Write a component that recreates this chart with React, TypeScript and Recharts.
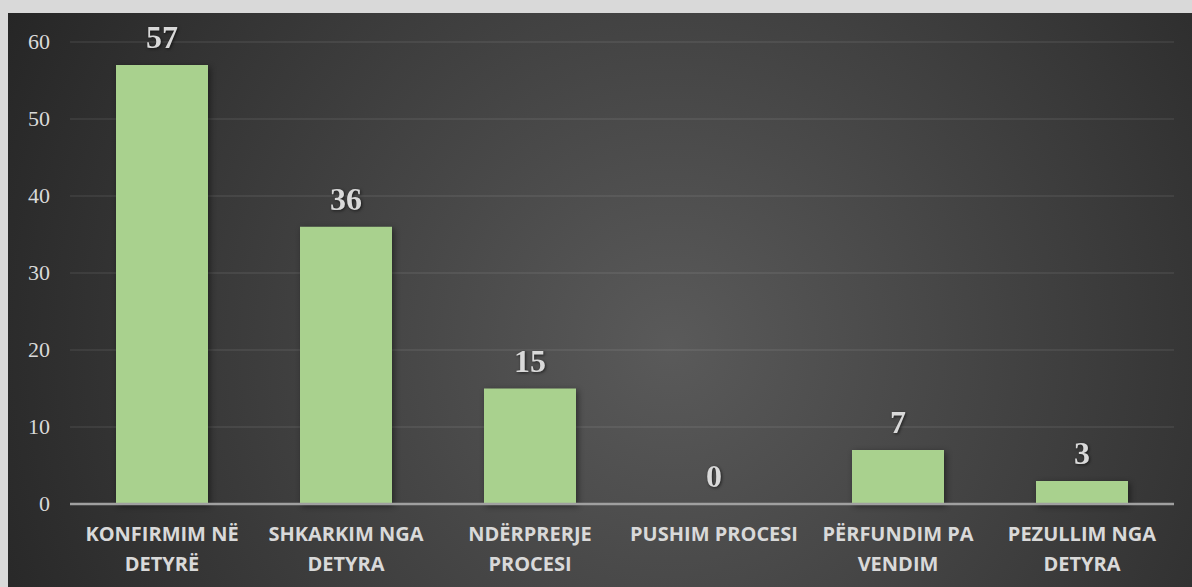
import React from 'react';
import { ComposedChart, Bar, Line, XAxis, YAxis, CartesianGrid, LabelList } from 'recharts';

const categories = [
  'KONFIRMIM NË DETYRË',
  'SHKARKIM NGA DETYRA',
  'NDËRPRERJE PROCESI',
  'PUSHIM PROCESI',
  'PËRFUNDIM PA VENDIM',
  'PEZULLIM NGA DETYRA',
];
// how each category label wraps on the axis
const categoryLines = [
  ['KONFIRMIM NË', 'DETYRË'],
  ['SHKARKIM NGA', 'DETYRA'],
  ['NDËRPRERJE', 'PROCESI'],
  ['PUSHIM PROCESI'],
  ['PËRFUNDIM PA', 'VENDIM'],
  ['PEZULLIM NGA', 'DETYRA'],
];
const values = [57, 36, 15, 0, 7, 3];
const yTicks = [0, 10, 20, 30, 40, 50, 60];

const data = categories.map((name, i) => ({ name, value: values[i] }));

const W = 1184;
const H = 574;

function CategoryTick(props: any) {
  const { x, y, payload } = props;
  const lines = categoryLines[payload.index] ?? [payload.value];
  return (
    <g transform={`translate(${x},${y})`}>
      {lines.map((ln, i) => (
        <text
          key={i}
          x={0}
          y={i * 30}
          dy={29}
          textAnchor="middle"
          fill="#d9d9d9"
          fontFamily="'Open Sans', sans-serif"
          fontWeight={700}
          fontSize={20}
        >
          {ln}
        </text>
      ))}
    </g>
  );
}

function ValueTick(props: any) {
  const { y, payload } = props;
  return (
    <text
      x={42}
      y={y}
      dy={7}
      textAnchor="end"
      fill="#d9d9d9"
      fontFamily="'Liberation Serif', serif"
      fontSize={22}
    >
      {payload.value}
    </text>
  );
}

// labels hang off an invisible line so the zero bar gets one too
function ValueLabel(props: any) {
  const { x, y, value } = props;
  if (x == null || y == null) return null;
  return (
    <text
      x={Number(x)}
      y={Number(y) - 17}
      textAnchor="middle"
      fill="#d9d9d9"
      fontFamily="'Liberation Serif', serif"
      fontWeight={700}
      fontSize={32}
      style={{ filter: 'drop-shadow(1px 1px 1.5px rgba(0,0,0,0.6))' }}
    >
      {value}
    </text>
  );
}

export default function App() {
  return (
    <div
      style={{
        position: 'fixed',
        left: 0,
        top: 0,
        width: 1192,
        height: 587,
        background: '#d9d9d9',
      }}
    >
      <style>{`
        .bars .recharts-rectangle { filter: drop-shadow(2px 2px 3px rgba(0,0,0,0.45)); }
      `}</style>
      <div
        style={{
          position: 'absolute',
          left: 8,
          top: 13,
          width: W,
          height: H,
          background:
            'radial-gradient(circle farthest-corner at 56% 58%, #5a5a5a 0%, #262626 100%)',
        }}
      >
        <ComposedChart
          width={W}
          height={H}
          data={data}
          margin={{ top: 29, right: 18, bottom: 0, left: 0 }}
          barCategoryGap="25%"
        >
          <CartesianGrid
            vertical={false}
            stroke="rgba(255,255,255,0.09)"
            strokeWidth={1.5}
          />
          <XAxis
            dataKey="name"
            interval={0}
            tick={<CategoryTick />}
            tickLine={false}
            axisLine={{ stroke: '#a0a0a0', strokeWidth: 2.5 }}
            height={83}
          />
          <YAxis
            domain={[0, 60]}
            ticks={yTicks}
            width={62}
            axisLine={false}
            tickLine={false}
            tick={<ValueTick />}
          />
          <Bar dataKey="value" fill="#a9d18e" isAnimationActive={false} className="bars" />
          <Line
            dataKey="value"
            stroke="none"
            dot={false}
            activeDot={false}
            isAnimationActive={false}
          >
            <LabelList dataKey="value" content={<ValueLabel />} />
          </Line>
        </ComposedChart>
      </div>
    </div>
  );
}
